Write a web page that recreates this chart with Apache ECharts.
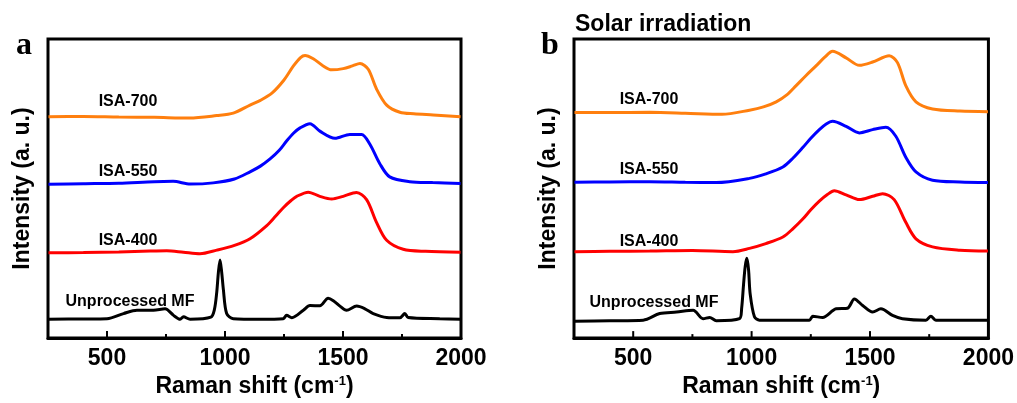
<!DOCTYPE html>
<html>
<head>
<meta charset="utf-8">
<script src="https://cdn.jsdelivr.net/npm/echarts@6/dist/echarts.min.js"></script>
<style>html,body{margin:0;padding:0;background:#fff}#c{width:1017px;height:403px}</style>
</head>
<body>
<div id="c"></div>
<script>
// ---- Panel a ----
const a700X = [252, 400, 550, 700, 850, 965, 1035, 1106, 1150, 1200, 1250, 1290, 1320, 1339, 1374, 1416, 1452, 1501, 1540, 1572, 1607, 1642, 1685, 1741, 1800, 1882, 1998];
const a700Y = [74.0, 74.1, 73.9, 73.8, 73.6, 74.4, 75.2, 77.9, 79.5, 82.0, 86.3, 91.0, 93.8, 94.5, 93.4, 91.0, 89.7, 90.1, 91.0, 91.8, 89.9, 83.3, 77.9, 75.5, 75.0, 74.6, 74.0];
const a550X = [252, 400, 550, 700, 780, 853, 950, 1040, 1106, 1150, 1191, 1230, 1261, 1290, 1318, 1360, 1402, 1466, 1529, 1579, 1614, 1656, 1698, 1783, 1880, 1998];
const a550Y = [51.4, 51.6, 51.8, 52.3, 52.4, 51.5, 51.9, 53.2, 55.6, 57.5, 59.9, 62.8, 65.9, 68.5, 70.3, 71.7, 69.2, 66.8, 68.1, 68.1, 64.8, 58.3, 53.9, 52.3, 52.0, 51.7];
const a400X = [252, 400, 550, 683, 753, 824, 894, 965, 1040, 1106, 1177, 1215, 1247, 1280, 1304, 1353, 1402, 1452, 1501, 1557, 1600, 1642, 1685, 1755, 1850, 1998];
const a400Y = [28.5, 28.6, 28.8, 29.1, 29.2, 28.7, 28.2, 29.4, 31.0, 33.2, 37.6, 40.8, 43.6, 46.0, 47.4, 48.8, 47.4, 46.5, 47.4, 48.7, 46.3, 38.7, 32.7, 29.7, 29.0, 28.7];
const aMFX = [252, 400, 500, 570, 627, 697, 746, 782, 810, 824, 852, 940, 955, 965, 972, 979, 986, 993, 1007, 1035, 1150, 1247, 1261, 1283, 1332, 1360, 1402, 1437, 1459, 1487, 1515, 1558, 1593, 1628, 1685, 1741, 1762, 1776, 1910, 1998];
const aMFY = [6.3, 6.4, 6.5, 8.2, 9.3, 9.3, 9.8, 7.6, 6.3, 7.1, 6.3, 7.0, 9.5, 15.3, 22.0, 26.1, 22.0, 16.3, 8.2, 6.5, 6.3, 6.5, 7.6, 6.8, 9.3, 10.9, 10.8, 13.3, 12.5, 10.7, 9.3, 10.7, 9.8, 8.2, 6.9, 6.8, 8.2, 6.9, 6.5, 6.3];

// ---- Panel b ----
const b700X = [252, 400, 570, 720, 875, 991, 1050, 1104, 1150, 1188, 1230, 1272, 1310, 1342, 1399, 1455, 1511, 1581, 1616, 1651, 1694, 1764, 1880, 1998];
const b700Y = [75.4, 75.4, 75.5, 75.2, 74.8, 76.2, 77.3, 79.0, 81.4, 84.4, 87.8, 91.0, 94.0, 95.9, 93.7, 91.2, 92.3, 94.4, 92.1, 84.4, 79.0, 76.6, 75.9, 75.7];
const b550X = [252, 400, 570, 720, 851, 991, 1060, 1132, 1175, 1216, 1250, 1286, 1315, 1342, 1399, 1455, 1511, 1567, 1609, 1651, 1694, 1764, 1880, 1998];
const b550Y = [52.1, 52.2, 52.3, 52.1, 52.0, 53.4, 54.9, 57.2, 60.2, 63.7, 66.8, 69.7, 71.6, 72.5, 70.8, 68.6, 69.7, 70.5, 67.5, 60.5, 55.6, 52.8, 52.2, 52.0];
const b400X = [252, 400, 570, 750, 921, 991, 1060, 1132, 1175, 1216, 1250, 1286, 1320, 1349, 1399, 1455, 1511, 1553, 1602, 1651, 1694, 1764, 1880, 1998];
const b400Y = [28.9, 29.0, 29.1, 29.3, 28.9, 30.0, 31.6, 33.8, 36.6, 39.8, 42.9, 45.8, 48.0, 49.3, 47.9, 46.3, 47.4, 48.3, 46.3, 38.7, 33.2, 30.5, 29.4, 29.1];
const bMFX = [252, 400, 542, 612, 683, 753, 795, 823, 851, 949, 958, 966, 973, 980, 987, 994, 1012, 1033, 1244, 1258, 1300, 1357, 1405, 1434, 1469, 1511, 1546, 1595, 1637, 1736, 1757, 1778, 1974, 1998];
const bMFY = [5.6, 5.8, 6.0, 8.2, 8.7, 9.3, 6.5, 6.9, 5.8, 6.5, 10.0, 18.0, 24.0, 26.7, 23.0, 14.7, 7.1, 6.0, 6.0, 7.3, 6.9, 9.8, 10.0, 13.1, 10.9, 8.7, 9.8, 7.6, 6.5, 6.0, 7.3, 6.0, 6.0, 6.0];

const seriesNames = ['ISA-700', 'ISA-550', 'ISA-400', 'Unprocessed MF'];
const seriesColors = ['#FF7F0E', '#0000FF', '#FF0000', '#000000'];
const majorTicks = [500, 1000, 1500];
const minorTicks = [750, 1250, 1750];
const labelStep = 500;   // tick labels at 500, 1000, 1500, 2000
const panelLetters = ['a', 'b'];
const panelTitle = 'Solar irradiation';

const pairs = (xs, ys) => xs.map((x, i) => [x, ys[i]]);
const panels = [
  [pairs(a700X, a700Y), pairs(a550X, a550Y), pairs(a400X, a400Y), pairs(aMFX, aMFY)],
  [pairs(b700X, b700Y), pairs(b550X, b550Y), pairs(b400X, b400Y), pairs(bMFX, bMFY)]
];

const FONT = '"Liberation Sans", Arial, sans-serif';
const YMIN = 0, YMAX = 100;
const grids = [
  {left: 48, right: 556, top: 39, bottom: 58},
  {left: 574, right: 28, top: 39, bottom: 58}
];

// inward tick marks drawn through the axis scale
function tickSeries(gi, values, len) {
  return {
    type: 'custom', xAxisIndex: gi, yAxisIndex: gi, silent: true, clip: false, z: 5,
    data: values.map(v => [v, YMIN]),
    renderItem: (params, api) => {
      const p = api.coord([api.value(0), api.value(1)]);
      return {type: 'line', shape: {x1: p[0], y1: p[1], x2: p[0], y2: p[1] - len},
              style: {stroke: '#000', lineWidth: 2}};
    }
  };
}

const xAxes = [], yAxes = [], series = [];
grids.forEach((g, gi) => {
  xAxes.push({
    type: 'value', gridIndex: gi, min: 250, max: 2000, interval: 250,
    axisLine: {show: true, lineStyle: {color: '#000', width: 3}},
    splitLine: {show: false},
    axisTick: {show: false},
    axisLabel: {formatter: v => (v % labelStep === 0 ? String(v) : ''), color: '#000', fontFamily: FONT, fontWeight: 'bold', fontSize: 23, margin: 9},
    name: '{a|Raman shift (cm}{s|-1}{a|)}',
    nameLocation: 'middle', nameGap: 33,
    nameTextStyle: {rich: {
      a: {fontFamily: FONT, fontWeight: 'bold', fontSize: 23, color: '#000'},
      s: {fontFamily: FONT, fontWeight: 'bold', fontSize: 13, color: '#000', verticalAlign: 'top', padding: [0, 0, 10, 0]}
    }}
  });
  yAxes.push({
    type: 'value', gridIndex: gi, min: YMIN, max: YMAX,
    axisLine: {show: false}, axisTick: {show: false}, axisLabel: {show: false}, splitLine: {show: false},
    name: 'Intensity (a. u.)', nameLocation: 'middle', nameGap: 14,
    nameTextStyle: {fontFamily: FONT, fontWeight: 'bold', fontSize: 23, color: '#000'}
  });
  panels[gi].forEach((d, si) => {
    series.push({
      type: 'line', name: seriesNames[si], xAxisIndex: gi, yAxisIndex: gi,
      data: d, showSymbol: false, smooth: 0.3,
      lineStyle: {color: seriesColors[si], width: 3}, itemStyle: {color: seriesColors[si]},
      silent: true, animation: false
    });
  });
  series.push(tickSeries(gi, majorTicks, 7));
  series.push(tickSeries(gi, minorTicks, 4));
});

const labelPos = [
  [[128, 102], [128, 172], [128, 241], [130, 302]],
  [[649, 100], [649, 170], [649, 242], [654, 303]]
];
const graphics = [];
labelPos.forEach((ps, gi) => ps.forEach((p, si) => {
  graphics.push({type: 'text', x: p[0], y: p[1], style: {
    text: seriesNames[si], font: 'bold 16px ' + FONT, fill: '#000', align: 'center', verticalAlign: 'middle'}});
}));
graphics.push({type: 'text', x: 24, y: 62, style: {text: panelLetters[0], font: 'bold 32px "Liberation Serif", "Times New Roman", serif', fill: '#000', align: 'center', verticalAlign: 'bottom'}});
graphics.push({type: 'text', x: 550, y: 62, style: {text: panelLetters[1], font: 'bold 32px "Liberation Serif", "Times New Roman", serif', fill: '#000', align: 'center', verticalAlign: 'bottom'}});
graphics.push({type: 'text', x: 575, y: 25, style: {text: panelTitle, font: 'bold 23px ' + FONT, fill: '#000', align: 'left', verticalAlign: 'middle'}});

const chart = echarts.init(document.getElementById('c'), null, {renderer: 'canvas'});
chart.setOption({
  animation: false,
  backgroundColor: '#fff',
  grid: grids.map(g => Object.assign({show: true, borderColor: '#000', borderWidth: 3, backgroundColor: 'transparent'}, g)),
  xAxis: xAxes,
  yAxis: yAxes,
  series: series,
  graphic: graphics
});
</script>
</body>
</html>
